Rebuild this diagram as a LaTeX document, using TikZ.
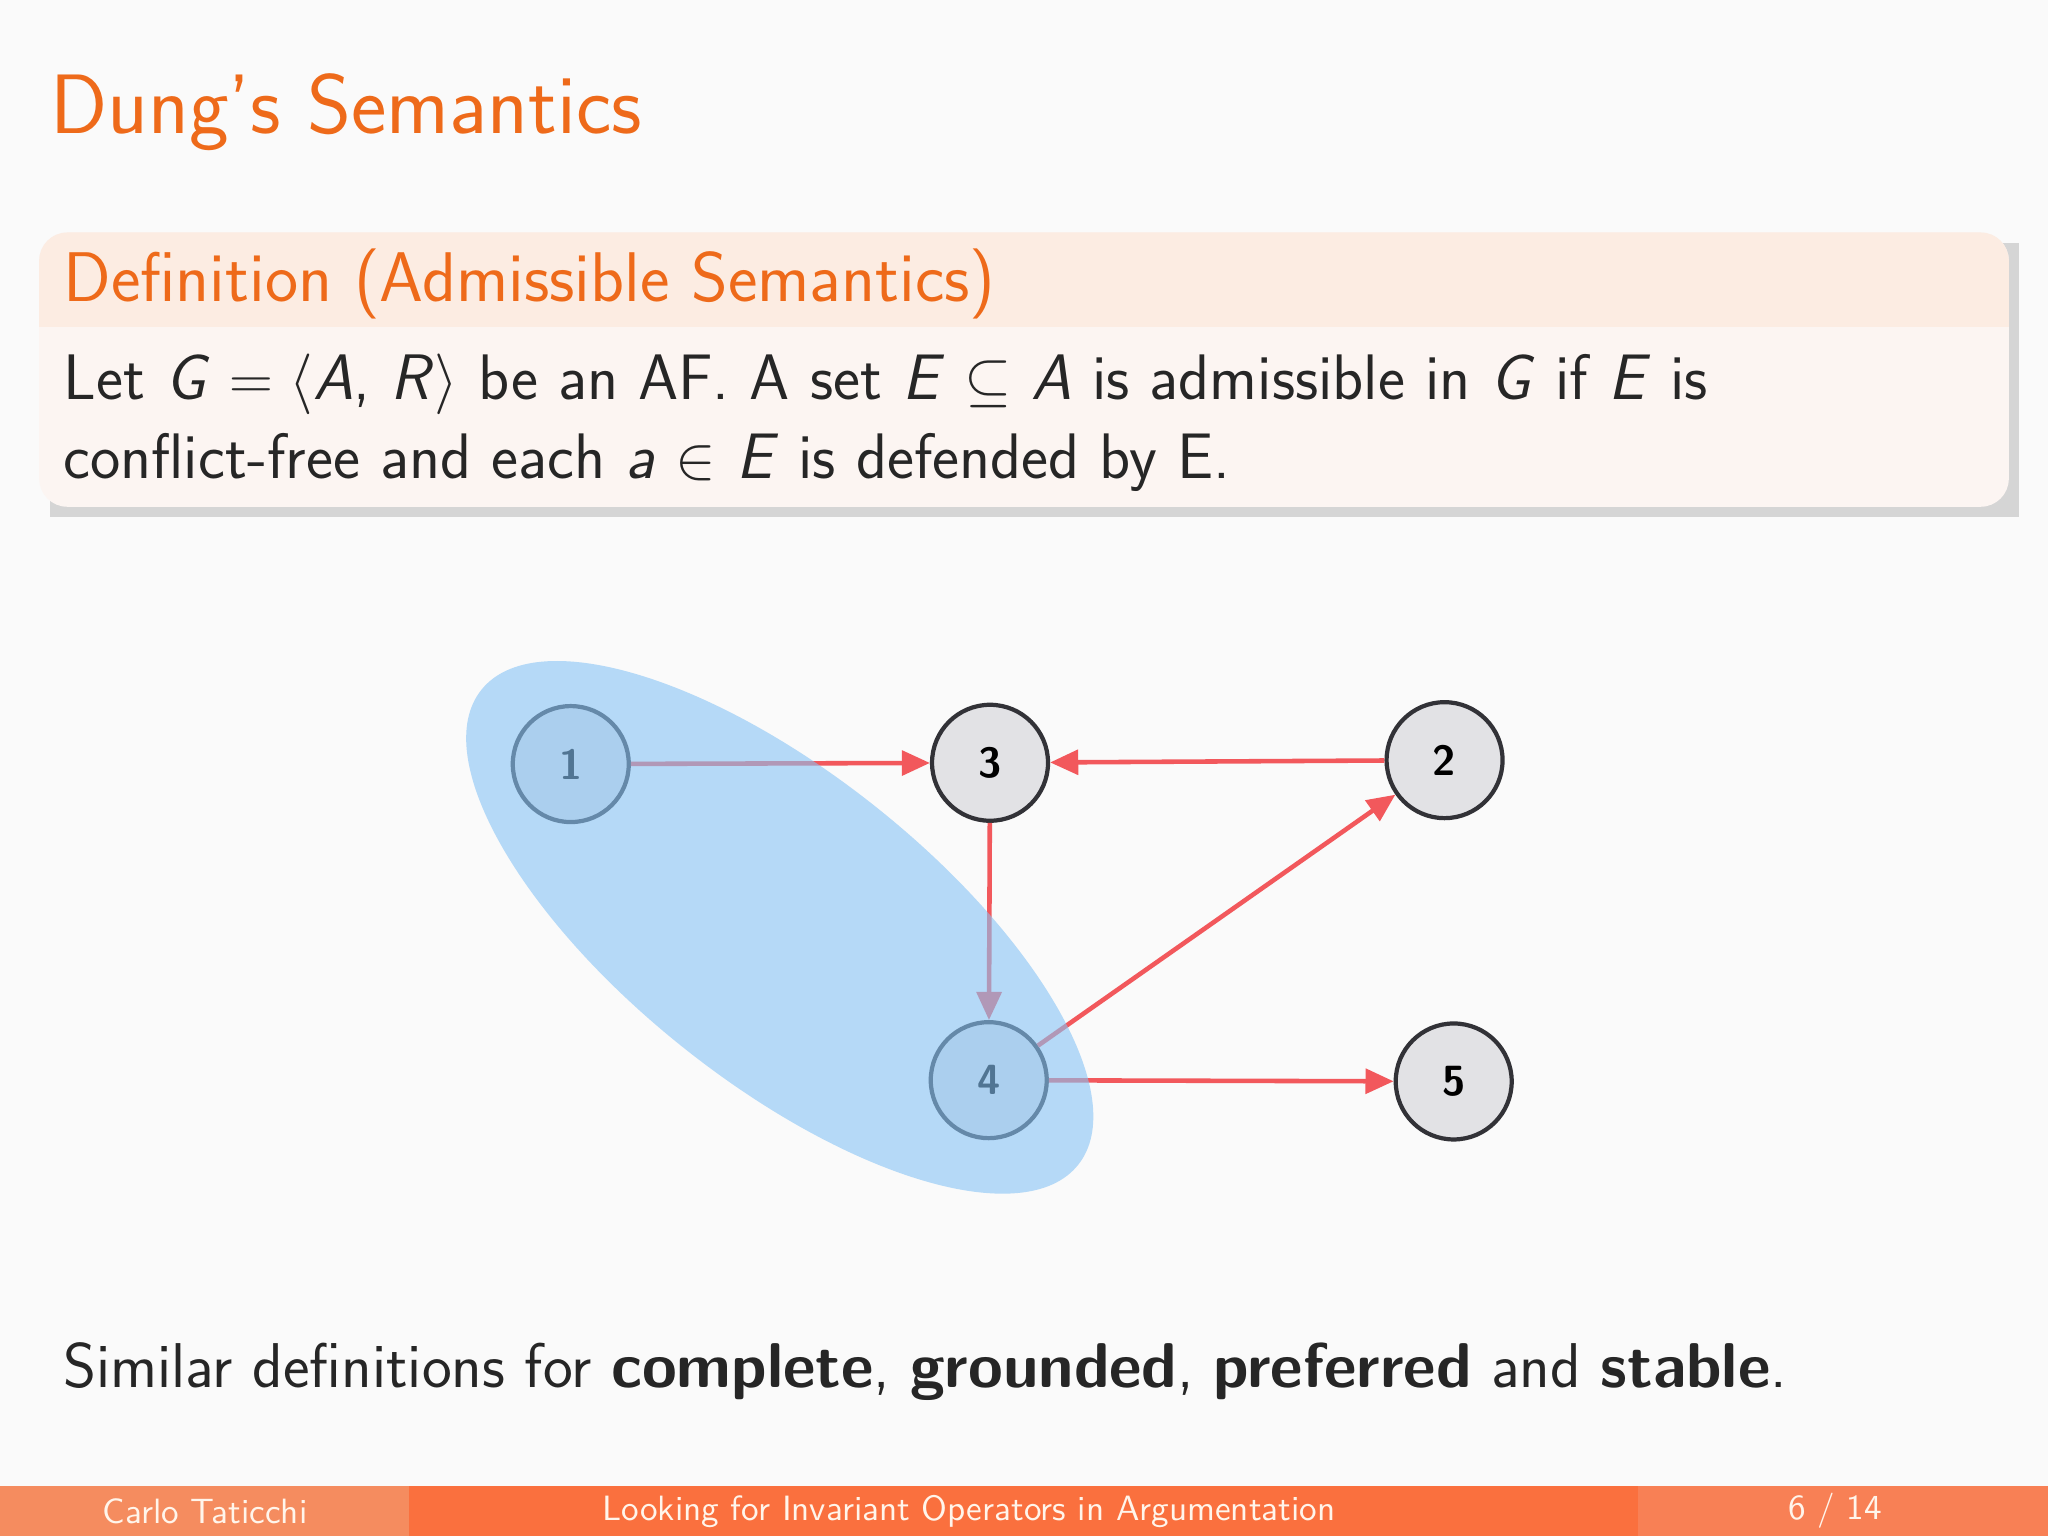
\documentclass[tikz,border=0pt]{standalone}
\usepackage{amsmath,amssymb}
\usetikzlibrary{arrows.meta,shadows}
\definecolor{borange}{RGB}{238,106,26}
\definecolor{hdr}{RGB}{252,236,226}
\definecolor{bdy}{RGB}{252,245,242}
\definecolor{ngray}{RGB}{226,226,229}
\definecolor{nborder}{RGB}{50,50,55}
\definecolor{ared}{RGB}{242,88,92}
\definecolor{eblue}{RGB}{135,195,245}
\definecolor{foot1}{RGB}{245,140,95}
\definecolor{foot2}{RGB}{250,112,62}
\definecolor{foot3}{RGB}{248,128,85}
\begin{document}
\begin{tikzpicture}[x=0.013061cm,y=-0.013061cm,
  arg/.style={circle,draw=nborder,line width=1.2pt,fill=ngray,minimum size=33pt,inner sep=0pt,font=\sffamily\bfseries\fontsize{12}{12}\selectfont},
  att/.style={draw=ared,line width=1.3pt,-{Triangle[length=8pt,width=7pt]}},
  txt/.style={anchor=base west,inner sep=0pt},
  every node/.style={font=\sffamily}]
\useasboundingbox (0,0) rectangle (1568,1176);
\fill[white!98!black] (0,0) rectangle (1568,1176);
\node[txt,text=borange,font=\sffamily\fontsize{24}{28}\selectfont] (title) at (38,102) {Dung's Semantics};
% block
\fill[black!30,opacity=0.5] (38,186) rectangle (1546,396);
\fill[bdy,rounded corners=8pt] (30,178) rectangle (1538,388);
\fill[hdr,rounded corners=8pt] (30,178) rectangle (1538,250);
\fill[hdr] (30,230) rectangle (1538,250);
\node[txt,text=borange,font=\sffamily\fontsize{20}{24}\selectfont] (bh) at (48,231) {Definition (Admissible Semantics)};
\node[txt,text=black!85,font=\sffamily\fontsize{18.3}{22}\selectfont] (b1) at (48,306) {Let \textit{G} $=\langle$\textit{A}, \textit{R}$\rangle$ be an AF. A set \textit{E} $\subseteq$ \textit{A} is admissible in \textit{G} if \textit{E} is};
\node[txt,text=black!85,font=\sffamily\fontsize{18.3}{22}\selectfont] (b2) at (48,366) {conflict-free and each \textit{a} $\in$ \textit{E} is defended by E.};
% graph
\node[arg] (n1) at (437,585) {1};
\node[arg] (n3) at (758,584) {3};
\node[arg] (n2) at (1106,582) {2};
\node[arg] (n4) at (757,827) {4};
\node[arg] (n5) at (1113,828) {5};
\draw[att] (n1) -- (n3);
\draw[att] (n2) -- (n3);
\draw[att] (n3) -- (n4);
\draw[att] (n4) -- (n2);
\draw[att] (n4) -- (n5);
\fill[eblue,opacity=0.6,rotate around={-38.5:(597,710)}] (597,710) ellipse (292 and 118);
% bottom text
\node[txt,text=black!85,font=\sffamily\fontsize{18}{22}\selectfont] (sim) at (48,1062) {Similar definitions for \textbf{complete}, \textbf{grounded}, \textbf{preferred} and \textbf{stable}.};
% footer
\fill[foot1] (0,1138) rectangle (313,1176);
\fill[foot2] (313,1138) rectangle (1254,1176);
\fill[foot3] (1254,1138) rectangle (1568,1176);
\node[text=white!92!orange,font=\sffamily\fontsize{10}{12}\selectfont] (f1) at (157,1157) {Carlo Taticchi};
\node[text=white!92!orange,font=\sffamily\fontsize{10}{12}\selectfont] (f2) at (742,1157) {Looking for Invariant Operators in Argumentation};
\node[text=white!92!orange,font=\sffamily\fontsize{10}{12}\selectfont] (f3) at (1405,1157) {6 / 14};
\end{tikzpicture}
\end{document}
